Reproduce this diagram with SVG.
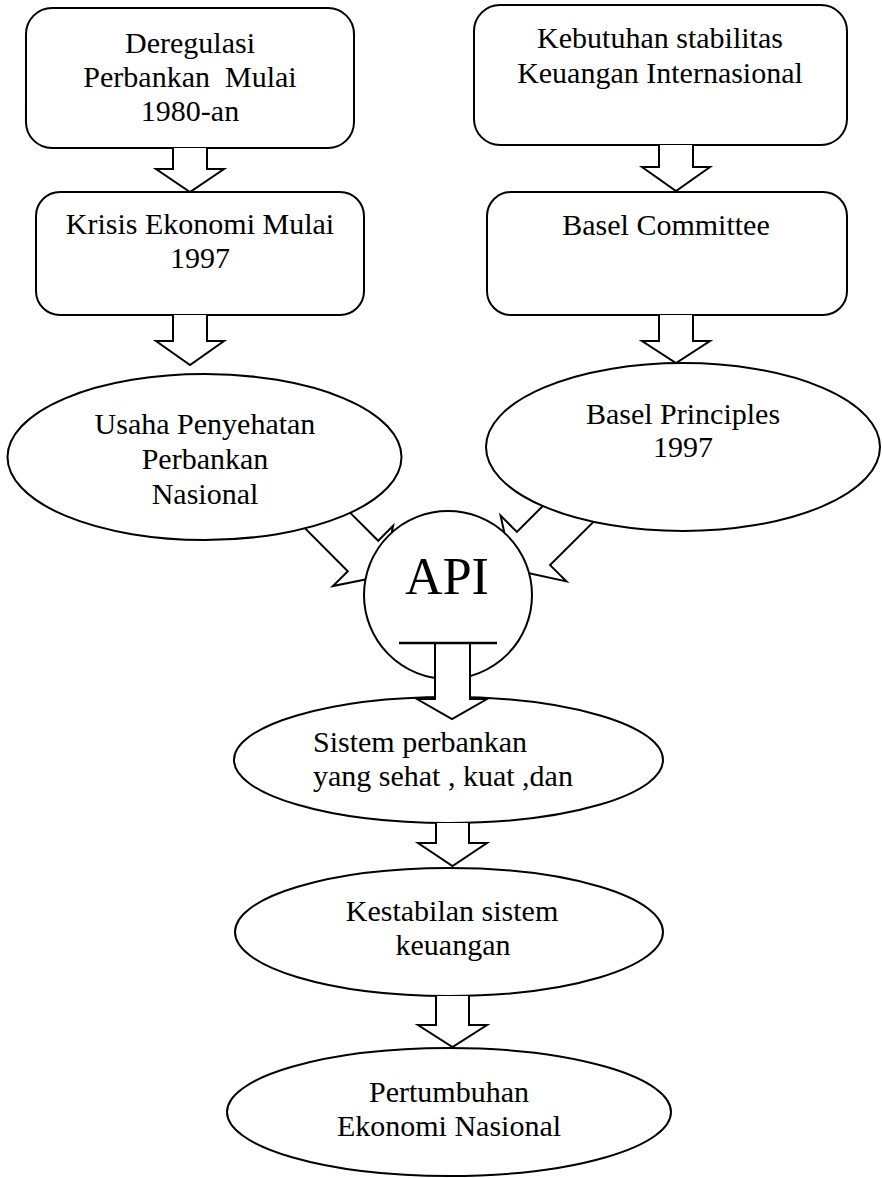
<svg xmlns="http://www.w3.org/2000/svg" width="882" height="1178" viewBox="0 0 882 1178">
<style>
.shape{fill:#fff;stroke:#000;stroke-width:2}
.t{font-family:"Liberation Serif","Times New Roman",serif;font-size:30px;fill:#000;text-anchor:middle;white-space:pre}
.api{font-size:52px}
.left{text-anchor:start}
.arrow{fill:#fff;stroke:#000;stroke-width:2;stroke-linejoin:miter}
.line{fill:none;stroke:#000;stroke-width:2;stroke-linejoin:miter}
</style>
<rect width="882" height="1178" fill="#fff"/>
<g id="n-deregulasi">
<rect class="shape" x="26" y="8" width="328" height="140" rx="26"/>
<text class="t" x="190" y="53">Deregulasi</text>
<text class="t" x="190" y="87" xml:space="preserve">Perbankan  Mulai</text>
<text class="t" x="190" y="121">1980-an</text>
</g>
<g id="n-krisis">
<rect class="shape" x="36" y="192" width="328" height="123" rx="24"/>
<text class="t" x="200" y="234">Krisis Ekonomi Mulai</text>
<text class="t" x="200" y="268">1997</text>
</g>
<g id="n-kebutuhan">
<rect class="shape" x="474" y="5" width="373" height="140" rx="26"/>
<text class="t" x="660" y="48">Kebutuhan stabilitas</text>
<text class="t" x="660" y="83">Keuangan Internasional</text>
</g>
<g id="n-basel-committee">
<rect class="shape" x="487" y="192" width="360" height="123" rx="24"/>
<text class="t" x="666" y="235">Basel Committee</text>
</g>
<g id="n-usaha">
<ellipse class="shape" cx="204.5" cy="457" rx="197" ry="83"/>
<text class="t" x="205" y="434">Usaha Penyehatan</text>
<text class="t" x="205" y="469">Perbankan</text>
<text class="t" x="205" y="504">Nasional</text>
</g>
<g id="n-basel-principles">
<ellipse class="shape" cx="683" cy="447" rx="197" ry="84"/>
<text class="t" x="683" y="424">Basel Principles</text>
<text class="t" x="683" y="457">1997</text>
</g>
<g id="n-api">
<circle class="shape" cx="448" cy="595" r="84"/>
<text class="t api" x="447" y="594">API</text>
</g>
<g id="n-sistem">
<ellipse class="shape" cx="448.5" cy="760" rx="214.5" ry="63"/>
<text class="t left" x="313" y="752">Sistem perbankan</text>
<text class="t left" x="313" y="786">yang sehat , kuat ,dan</text>
</g>
<g id="n-kestabilan">
<ellipse class="shape" cx="449" cy="932" rx="214" ry="64"/>
<text class="t" x="452" y="921">Kestabilan sistem</text>
<text class="t" x="453" y="955">keuangan</text>
</g>
<g id="n-pertumbuhan">
<ellipse class="shape" cx="449" cy="1112" rx="222" ry="64"/>
<text class="t" x="449" y="1102">Pertumbuhan</text>
<text class="t" x="449" y="1136">Ekonomi Nasional</text>
</g>
<g id="connectors">
<path class="arrow" d="M173,148 V169 H156 L190,192 L224,169 H207 V148"/>
<path class="arrow" d="M173,315 V341 H156 L190,365 L224,341 H207 V315"/>
<path class="arrow" d="M659,145 V167 H642 L676,191 L710,167 H693 V145"/>
<path class="arrow" d="M659,315 V341 H642 L676,363 L710,341 H693 V315"/>
<path class="arrow" d="M435,644 V699 H417 L452,719 L487,699 H470 V644"/>
<path class="arrow" d="M436,823 V843 H418 L452.5,866 L487,843 H469 V823"/>
<path class="arrow" d="M436,996 V1025 H418 L452.5,1047 L487,1025 H469 V996"/>
<polyline class="line" points="305.1,528.4 347.8,571.2 332.9,586.1 365.4,579.4"/>
<polyline class="line" points="350.3,512.9 378.2,540.8 393.1,525.9 391.7,532.7"/>
<polyline class="line" points="542.6,506.2 516.9,531.9 500.6,515.6 504.3,532.5"/>
<polyline class="line" points="593.2,522.1 550.1,565.1 566.4,581.4 529.1,573.3"/>
<line x1="399" y1="643" x2="497" y2="643" stroke="#000" stroke-width="2.5"/>
</g>
</svg>
